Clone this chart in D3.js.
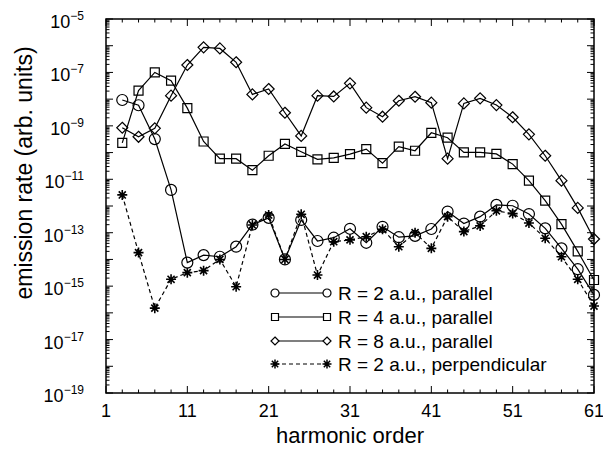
<!DOCTYPE html>
<html>
<head>
<meta charset="utf-8">
<script src="https://cdn.jsdelivr.net/npm/d3@7/dist/d3.min.js"></script>
<style>
  html, body { margin: 0; padding: 0; background: #fff; }
  svg { display: block; font-family: "Liberation Sans", Arial, Helvetica, sans-serif; }
</style>
</head>
<body>
<svg id="chart" width="603" height="451"></svg>
<script>
// ---------- data ----------
const harmonics = [3,5,7,9,11,13,15,17,19,21,23,25,27,29,31,33,35,37,39,41,43,45,47,49,51,53,55,57,59,61];

const r2Parallel = [9.3e-9,5.9e-9,3.2e-10,4.0e-12,7.6e-15,1.45e-14,1.26e-14,3.0e-14,2.0e-13,3.6e-13,
  1.0e-14,3.0e-13,4.9e-14,6.5e-14,1.4e-13,4.2e-14,1.66e-13,6.8e-14,7.6e-14,1.38e-13,
  6.2e-13,2.2e-13,4.0e-13,1.1e-12,1.02e-12,5.0e-13,1.45e-13,2.6e-14,4.3e-15,4.7e-16];

const r4Parallel = [2.3e-10,2.1e-8,1.0e-7,4.9e-8,4.6e-9,2.6e-10,5.9e-11,5.9e-11,2.2e-11,7.6e-11,
  2.1e-10,1.07e-10,5.6e-11,6.3e-11,8.7e-11,1.35e-10,4.0e-11,1.66e-10,1.17e-10,5.5e-10,
  3.6e-10,1.02e-10,1.02e-10,8.9e-11,3.7e-11,8.9e-12,1.6e-12,2.1e-13,2.0e-14,1.7e-15];

const r8Parallel = [8.5e-10,3.9e-10,8.1e-10,1.35e-8,1.9e-7,8.7e-7,7.9e-7,2.4e-7,1.5e-8,2.4e-8,
  3.1e-9,4.2e-10,1.35e-8,1.26e-8,3.9e-8,4.8e-9,2.2e-9,8.7e-9,1.23e-8,7.4e-9,
  5.9e-11,6.9e-9,1.07e-8,6.0e-9,2.1e-9,4.8e-10,7.6e-11,8.9e-12,8.5e-13,5.8e-14];

const r2Perpendicular = [2.6e-12,1.8e-14,1.5e-16,1.8e-15,3.2e-15,3.8e-15,1.0e-14,9.5e-16,1.95e-13,4.6e-13,
  1.0e-14,4.9e-13,2.6e-15,4.6e-14,5.4e-14,7.1e-14,1.35e-13,3.0e-14,1.0e-13,2.6e-14,
  4.0e-13,1.1e-13,1.8e-13,6.6e-13,5.2e-13,2.3e-13,6.2e-14,1.26e-14,1.8e-15,1.8e-16];

const seriesNames = ["R = 2 a.u., parallel", "R = 4 a.u., parallel", "R = 8 a.u., parallel", "R = 2 a.u., perpendicular"];
const xTickValues = [1, 11, 21, 31, 41, 51, 61];
const yTickExponents = [-5, -7, -9, -11, -13, -15, -17, -19];
const xLabel = "harmonic order";
const yLabel = "emission rate (arb. units)";

// ---------- layout ----------
const svg = d3.select("#chart");
const L = 106, R = 594, T = 19, B = 393;

const x = d3.scaleLinear().domain([1, 61]).range([L, R]);
const y = d3.scaleLog().domain([1e-19, 1e-5]).range([B, T]);

// ---------- ticks ----------
const tickG = svg.append("g").attr("stroke", "#000").attr("stroke-width", 1);
// x ticks (every 2, major every 10)
d3.range(1, 62, 2).forEach(v => {
  const major = (v - 1) % 10 === 0;
  const len = major ? 7 : 3.5;
  tickG.append("line").attr("x1", x(v)).attr("x2", x(v)).attr("y1", B).attr("y2", B - len);
  tickG.append("line").attr("x1", x(v)).attr("x2", x(v)).attr("y1", T).attr("y2", T + len);
});
// y ticks (each decade major, 2..9 minor)
for (let e = -19; e <= -5; e++) {
  const yy = y(Math.pow(10, e));
  tickG.append("line").attr("x1", L).attr("x2", L + 7).attr("y1", yy).attr("y2", yy);
  tickG.append("line").attr("x1", R).attr("x2", R - 7).attr("y1", yy).attr("y2", yy);
  if (e < -5) {
    for (let m = 2; m <= 9; m++) {
      const ym = y(m * Math.pow(10, e));
      tickG.append("line").attr("x1", L).attr("x2", L + 3.5).attr("y1", ym).attr("y2", ym);
      tickG.append("line").attr("x1", R).attr("x2", R - 3.5).attr("y1", ym).attr("y2", ym);
    }
  }
}

// frame
svg.append("rect").attr("x", L).attr("y", T).attr("width", R - L).attr("height", B - T)
  .attr("fill", "none").attr("stroke", "#000").attr("stroke-width", 1.5);

// x tick labels
svg.append("g").selectAll("text").data(xTickValues).join("text")
  .attr("x", d => x(d)).attr("y", 417)
  .attr("text-anchor", "middle").attr("font-size", 18).attr("fill", "#000")
  .text(d => d);

// y tick labels
const yl = svg.append("g").selectAll("text").data(yTickExponents).join("text")
  .attr("x", 84).attr("y", d => y(Math.pow(10, d)) + 9)
  .attr("text-anchor", "end").attr("fill", "#000").attr("font-size", 18);
yl.append("tspan").text("10");
yl.append("tspan").attr("dy", -8).attr("font-size", 12).text(d => "\u2212" + Math.abs(d));

// axis titles
svg.append("text").attr("x", (L + R) / 2 + 0).attr("y", 443)
  .attr("text-anchor", "middle").attr("font-size", 22).attr("fill", "#000").text(xLabel);
svg.append("text").attr("transform", "translate(32,173) rotate(-90)")
  .attr("text-anchor", "middle").attr("font-size", 23).attr("fill", "#000").text(yLabel);

// ---------- symbols ----------
function markerPath(type, s) {
  const h = s / 2;
  if (type === "circle") {
    return `M${-h},0A${h},${h} 0 1,0 ${h},0A${h},${h} 0 1,0 ${-h},0Z`;
  } else if (type === "square") {
    return `M${-h},${-h}H${h}V${h}H${-h}Z`;
  } else if (type === "diamond") {
    return `M0,${-h}L${h},0L0,${h}L${-h},0Z`;
  } else {
    const d = h * 0.707;
    return `M${-h},0H${h}M0,${-h}V${h}M${-d},${-d}L${d},${d}M${-d},${d}L${d},${-d}`;
  }
}

const series = [
  { name: seriesNames[0], values: r2Parallel, type: "circle", size: 11, dash: null, lsize: 8 },
  { name: seriesNames[1], values: r4Parallel, type: "square", size: 9, dash: null, lsize: 7 },
  { name: seriesNames[2], values: r8Parallel, type: "diamond", size: 11, dash: null, lsize: 8 },
  { name: seriesNames[3], values: r2Perpendicular, type: "star", size: 10, dash: "4,3", lsize: 9 }
];

const line = d3.line().x(d => x(d[0])).y(d => y(d[1]));
const plot = svg.append("g");

series.forEach(s => {
  const pts = harmonics.map((h, i) => [h, s.values[i]]);
  plot.append("path").attr("d", line(pts)).attr("fill", "none").attr("stroke", "#000")
    .attr("stroke-width", 1.2).attr("stroke-dasharray", s.dash);
  plot.append("g").selectAll("path").data(pts).join("path")
    .attr("transform", d => `translate(${x(d[0])},${y(d[1])})`)
    .attr("d", markerPath(s.type, s.size))
    .attr("fill", "none").attr("stroke", "#000").attr("stroke-width", s.type === "star" ? 1.6 : 1.2);
});

// ---------- legend ----------
const leg = svg.append("g");
const legY = [293, 317, 341, 364];
series.forEach((s, i) => {
  const yy = legY[i];
  leg.append("line").attr("x1", 275).attr("x2", 327).attr("y1", yy).attr("y2", yy)
    .attr("stroke", "#000").attr("stroke-width", 1.2).attr("stroke-dasharray", s.dash);
  [275, 327].forEach(px => {
    leg.append("path").attr("transform", `translate(${px},${yy})`)
      .attr("d", markerPath(s.type, s.lsize))
      .attr("fill", "#fff").attr("stroke", "#000").attr("stroke-width", s.type === "star" ? 1.5 : 1.2);
  });
  leg.append("text").attr("x", 338).attr("y", yy + 7).attr("font-size", 19).attr("fill", "#000").text(s.name);
});
</script>
</body>
</html>
